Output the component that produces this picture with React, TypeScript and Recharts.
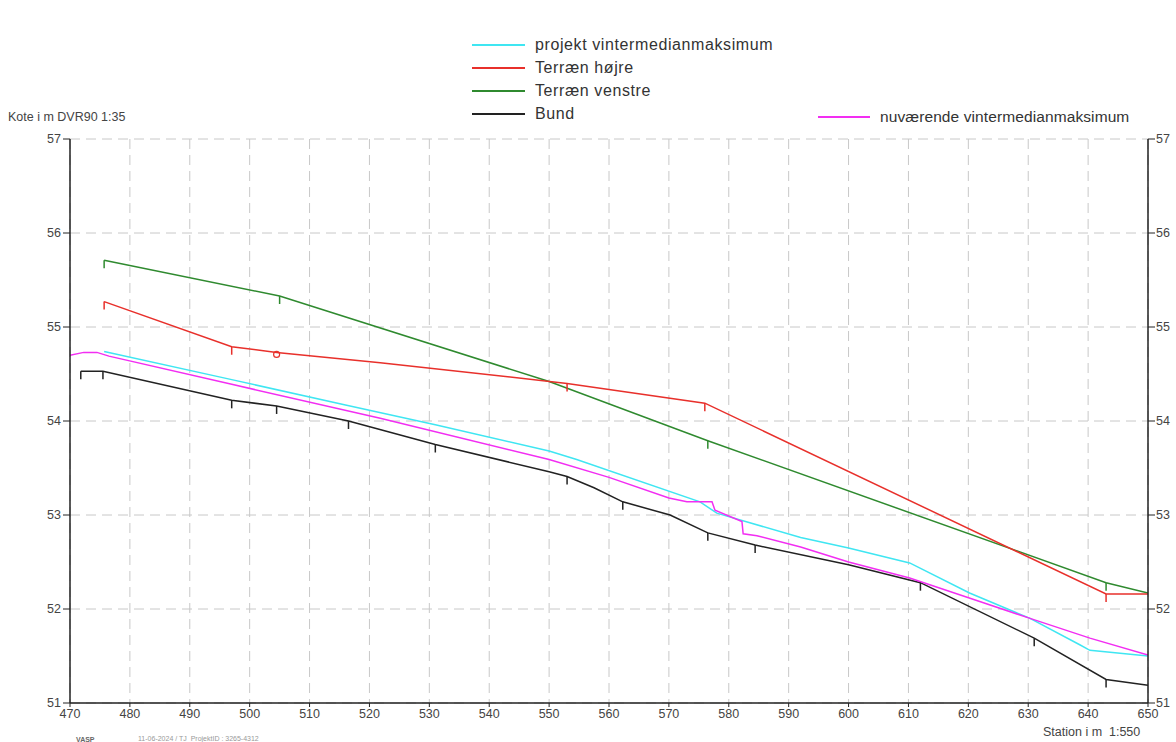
import { LineChart, Line, XAxis, YAxis, CartesianGrid } from 'recharts'

// Stationer (x) og koter (y) aflæst fra længdeprofilet
const stationTicks = [470, 480, 490, 500, 510, 520, 530, 540, 550, 560, 570, 580, 590, 600, 610, 620, 630, 640, 650]
const koteTicks = [51, 52, 53, 54, 55, 56, 57]

const bund: [number, number][] = [
  [471.8, 54.53], [475.5, 54.53], [497, 54.22], [504.5, 54.16], [516.5, 54.0], [531, 53.75],
  [550, 53.46], [553, 53.41], [557.5, 53.29], [562.3, 53.14], [570.2, 53.0], [576.5, 52.81],
  [584.4, 52.68], [600, 52.47], [612, 52.28], [631, 51.69], [643, 51.25], [650, 51.19],
]
const bundStationer = [471.8, 475.5, 497, 504.5, 516.5, 531, 553, 562.3, 576.5, 584.4, 612, 631, 643]

const nuvaerende: [number, number][] = [
  [470, 54.7], [472.3, 54.73], [474.5, 54.73], [476.5, 54.69], [497, 54.39], [521.8, 54.03],
  [550, 53.59], [560, 53.4], [570, 53.18], [573, 53.14], [577.2, 53.14], [577.7, 53.05],
  [582.2, 52.93], [582.4, 52.8], [584.7, 52.78], [592, 52.66], [600, 52.5], [610.2, 52.33],
  [622.4, 52.07], [630.3, 51.9], [640.3, 51.69], [650, 51.51],
]

const projekt: [number, number][] = [
  [475.7, 54.74], [497, 54.44], [516, 54.17], [531, 53.96], [550, 53.68], [554.6, 53.59],
  [575.2, 53.14], [578, 53.02], [592, 52.76], [600, 52.65], [610.2, 52.49], [620.2, 52.17],
  [630.3, 51.9], [638.6, 51.62], [640.3, 51.56], [650, 51.5],
]

const terraenHojre: [number, number][] = [
  [475.7, 55.27], [497, 54.79], [504.5, 54.73], [521.8, 54.62], [553, 54.4], [576, 54.19],
  [643, 52.16], [650, 52.16],
]
const hojreStationer = [475.7, 497, 553, 576, 643]
const hojreCirkel = 504.5

const terraenVenstre: [number, number][] = [
  [475.7, 55.71], [505, 55.33], [550, 54.42], [576.5, 53.79], [643, 52.28], [650, 52.17],
]
const venstreStationer = [475.7, 505, 576.5, 643]

const byg = (pts: [number, number][], marks: number[] = [], cirkel?: number) =>
  pts.map(([x, y]) => ({ x, y, m: marks.includes(x) ? 1 : x === cirkel ? 2 : 0 }))

// små lodrette streger ved stationer
function stationDot(farve: string) {
  return (p: any) => {
    const { cx, cy, payload, index } = p
    if (payload.m === 1)
      return <line key={`d${index}`} x1={cx} y1={cy} x2={cx} y2={cy + 8} stroke={farve} strokeWidth={1.5} />
    if (payload.m === 2)
      return <circle key={`d${index}`} cx={cx} cy={cy + 2} r={3} fill="none" stroke={farve} strokeWidth={1.2} />
    return <g key={`d${index}`} />
  }
}

const font = '"Liberation Sans", Arial, sans-serif'
const tickStil = { fill: '#444', fontSize: 12.5, fontFamily: font }
const akse = { stroke: '#222', strokeWidth: 1.5 }

const legende = [
  { navn: 'projekt vintermedianmaksimum', farve: '#3fe6f2', y: 45 },
  { navn: 'Terræn højre', farve: '#e8302b', y: 68 },
  { navn: 'Terræn venstre', farve: '#2f8a2f', y: 91 },
  { navn: 'Bund', farve: '#222', y: 114 },
]

export default function App() {
  return (
    <div style={{ position: 'fixed', left: 0, top: 0, width: 1176, height: 742, background: '#fff', fontFamily: font, overflow: 'hidden' }}>
      {legende.map((l) => (
        <div key={l.navn} style={{ position: 'absolute', left: 472, top: l.y - 10, height: 20, display: 'flex', alignItems: 'center' }}>
          <div style={{ width: 53, height: 1.5, background: l.farve, marginRight: 10 }} />
          <span style={{ fontSize: 16, color: '#333', letterSpacing: 0.6 }}>{l.navn}</span>
        </div>
      ))}
      <div style={{ position: 'absolute', left: 818, top: 107, height: 20, display: 'flex', alignItems: 'center', whiteSpace: 'nowrap' }}>
        <div style={{ width: 52, height: 1.5, background: '#f22ef2', marginRight: 10, flex: 'none' }} />
        <span style={{ fontSize: 15.5, color: '#333', letterSpacing: 0.1 }}>nuværende vintermedianmaksimum</span>
      </div>
      <div style={{ position: 'absolute', left: 8, top: 110, fontSize: 12.5, color: '#444' }}>Kote i m DVR90 1:35</div>
      <div style={{ position: 'absolute', left: 1043, top: 725, fontSize: 12.5, color: '#444' }}>Station i m&nbsp; 1:550</div>
      <div style={{ position: 'absolute', left: 76, top: 736, fontSize: 7, fontWeight: 'bold', color: '#666' }}>VASP</div>
      <div style={{ position: 'absolute', left: 138, top: 735, fontSize: 7, color: '#999' }}>11-06-2024 / TJ&nbsp; ProjektID : 3265-4312</div>

      <LineChart width={1176} height={742} margin={{ top: 139, left: 26, right: 0, bottom: 9 }} style={{ position: 'absolute', left: 0, top: 0 }}>
        <CartesianGrid strokeDasharray="10 6" stroke="#c8c8c8" />
        <XAxis type="number" dataKey="x" domain={[470, 650]} ticks={stationTicks} allowDataOverflow height={30}
          tick={tickStil} tickSize={4} axisLine={akse} tickLine={{ stroke: '#222' }} />
        <XAxis xAxisId="top" orientation="top" type="number" dataKey="x" domain={[470, 650]} ticks={stationTicks}
          height={0} tick={false} tickSize={5} axisLine={akse} tickLine={{ stroke: '#222' }} />
        <YAxis type="number" domain={[51, 57]} ticks={koteTicks} width={44} tick={tickStil} tickSize={7}
          axisLine={akse} tickLine={{ stroke: '#222' }} allowDataOverflow />
        <YAxis yAxisId="r" orientation="right" type="number" domain={[51, 57]} ticks={koteTicks} width={28}
          tick={tickStil} tickSize={7} tickMargin={1} axisLine={akse} tickLine={{ stroke: '#222' }} allowDataOverflow />
        <Line data={byg(terraenVenstre, venstreStationer)} dataKey="y" stroke="#2f8a2f" strokeWidth={1.5}
          dot={stationDot('#2f8a2f')} activeDot={false} isAnimationActive={false} />
        <Line data={byg(terraenHojre, hojreStationer, hojreCirkel)} dataKey="y" stroke="#e8302b" strokeWidth={1.5}
          dot={stationDot('#e8302b')} activeDot={false} isAnimationActive={false} />
        <Line data={byg(bund, bundStationer)} dataKey="y" stroke="#222" strokeWidth={1.5}
          dot={stationDot('#222')} activeDot={false} isAnimationActive={false} />
        <Line data={byg(projekt)} dataKey="y" stroke="#3fe6f2" strokeWidth={1.5}
          dot={false} activeDot={false} isAnimationActive={false} />
        <Line yAxisId="r" data={byg(nuvaerende)} dataKey="y" stroke="#f22ef2" strokeWidth={1.5}
          dot={false} activeDot={false} isAnimationActive={false} />
      </LineChart>
    </div>
  )
}
